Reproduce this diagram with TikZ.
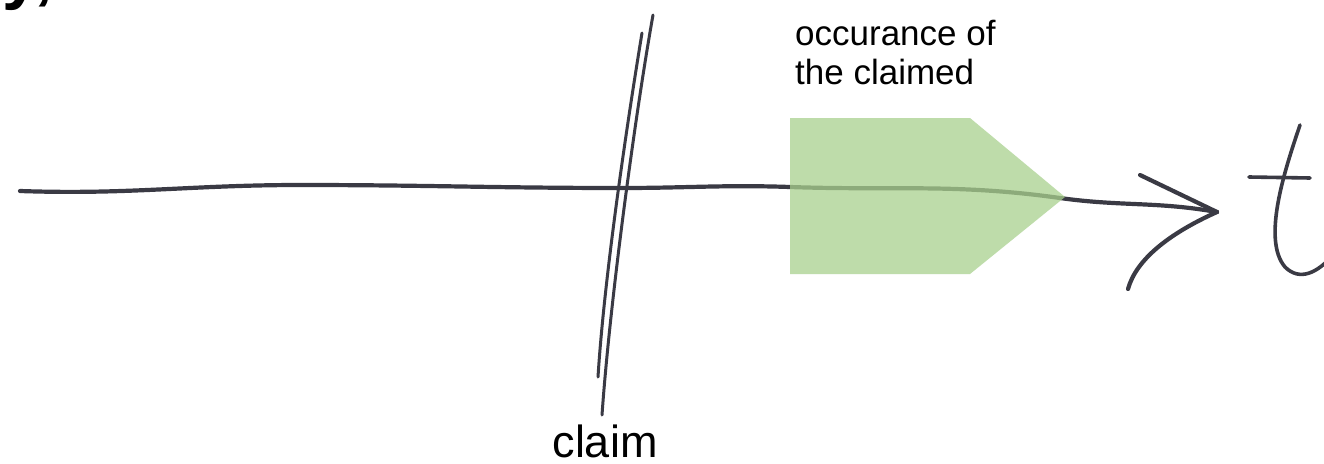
\documentclass[tikz,border=0pt]{standalone}
\usepackage{fontspec}
\setmainfont{Liberation Sans}
\definecolor{pen}{RGB}{58,58,68}
\definecolor{lightgreen}{RGB}{169,209,142}
\tikzset{
  hand/.style={draw=pen, line width=4.2pt, line cap=round, line join=round},
  thinhand/.style={draw=pen, line width=3pt, line cap=round, line join=round},
  occbox/.style={fill=lightgreen, fill opacity=0.75, draw=none},
  lbl/.style={inner sep=0pt, text=black},
  toplbl/.style={lbl, anchor=base west, font=\fontsize{35}{39}\selectfont}
}
\begin{document}
\begin{tikzpicture}[x=1pt,y=-1pt]
\useasboundingbox (0,0) rectangle (1324,463);
\clip (0,0) rectangle (1324,463);
\fill[white] (0,0) rectangle (1324,463);
% cut-off heading glyphs
\node[lbl, anchor=base west, font=\fontsize{68}{70}\selectfont\bfseries] (head) at (2,-3) {y,};
% time axis
\coordinate (start) at (20,191);
\coordinate (tip) at (1217,212);
\draw[hand] (start) to[out=-2,in=180] (300,185) to[out=0,in=180] (622,188)
  to[out=0,in=178] (790,187) to[out=-2,in=172] (1060,198) to[out=-8,in=170] (tip);
% arrowhead strokes
\coordinate (ahtop) at (1140,175);
\coordinate (ahbot) at (1128,289);
\draw[hand] (ahtop) -- (tip);
\draw[hand] (tip) .. controls (1168,234) and (1136,260) .. (ahbot);
% t
\draw[thinhand, line width=3.6pt] (1249,177) -- (1310,178);
\draw[thinhand, line width=3.6pt] (1300,125) .. controls (1284,172) and (1262,240) .. (1285,267)
  .. controls (1300,282) and (1318,272) .. (1332,256);
% claim slash
\node[lbl, anchor=base, font=\fontsize{45}{48}\selectfont] (claim) at (605,457) {claim};
\coordinate (s1a) at (653,15);
\coordinate (s1b) at (602,415);
\coordinate (s2a) at (642,33);
\coordinate (s2b) at (598,377);
\draw[thinhand] (s1a) .. controls (636,110) and (610,300) .. (s1b);
\draw[thinhand] (s2a) .. controls (626,130) and (604,280) .. (s2b);
% occurrence block
\fill[occbox] (790,118) -- (970,118) -- (1065,197) -- (970,274) -- (790,274) -- cycle;
\node[toplbl] (occ1) at (795,45) {occurance of};
\node[toplbl] (occ2) at (795,84) {the claimed};
\end{tikzpicture}
\end{document}
